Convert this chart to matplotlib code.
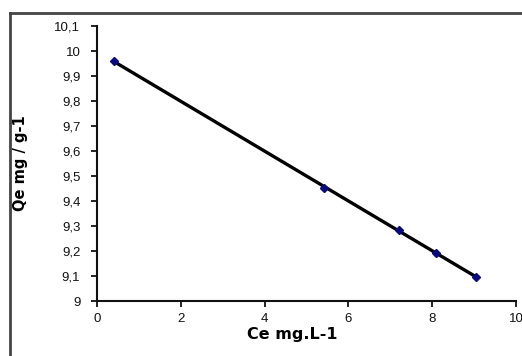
import numpy as np
import matplotlib
matplotlib.use('Agg')
import matplotlib.pyplot as plt
from matplotlib.ticker import FuncFormatter
from matplotlib.lines import Line2D

# data
ce = [0.4, 5.42, 7.2, 8.08, 9.05]       # Ce mg.L-1
qe = [9.96, 9.452, 9.285, 9.192, 9.097]  # Qe mg / g-1

x_ticks = [0, 2, 4, 6, 8, 10]
y_ticks = [9.0, 9.1, 9.2, 9.3, 9.4, 9.5, 9.6, 9.7, 9.8, 9.9, 10.0, 10.1]

plt.rcParams['font.family'] = ['Liberation Sans', 'DejaVu Sans']

fig = plt.figure(figsize=(5.22, 3.56), dpi=100)
ax = fig.add_axes([97/522, 1-301/356, (516-97)/522, (301-26)/356])

# linear trend line through the points
k, b = np.polyfit(ce, qe, 1)
xs = np.array([min(ce), max(ce)])
ax.plot(xs, k*xs + b, color='black', lw=2.4, zorder=2)
ax.plot(ce, qe, ls='none', marker='D', ms=4.5, color='#0a0a80', zorder=3)

ax.set_xlim(0, 10)
ax.set_ylim(9, 10.1)
ax.set_xticks(x_ticks)
ax.set_yticks(y_ticks)
comma = FuncFormatter(lambda v, p: ('%g' % round(v, 2)).replace('.', ','))
ax.xaxis.set_major_formatter(comma)
ax.yaxis.set_major_formatter(comma)

for s in ['top', 'right']:
    ax.spines[s].set_visible(False)
for s in ['left', 'bottom']:
    ax.spines[s].set_linewidth(1.5)
    ax.spines[s].set_color('#111111')
ax.tick_params(axis='both', direction='out', length=4, width=1.3, labelsize=9.5, colors='#111111')
ax.tick_params(axis='y', pad=8)
ax.tick_params(axis='x', pad=5)

ax.set_xlabel('Ce mg.L-1', fontsize=11.5, fontweight='bold', family='DejaVu Sans')
ax.set_ylabel('Qe mg / g-1', fontsize=10.5, fontweight='bold', family='DejaVu Sans')
ax.xaxis.set_label_coords(0.465, -0.093)
ax.yaxis.set_label_coords(-0.165, 0.5)

# outer chart frame (left and top edges visible)
fig.add_artist(Line2D([10/522, 10/522], [0, 1-13/356], color='#444444', lw=2))
fig.add_artist(Line2D([10/522, 1], [1-13/356, 1-13/356], color='#444444', lw=2))

fig.savefig('out.png', dpi=100)
